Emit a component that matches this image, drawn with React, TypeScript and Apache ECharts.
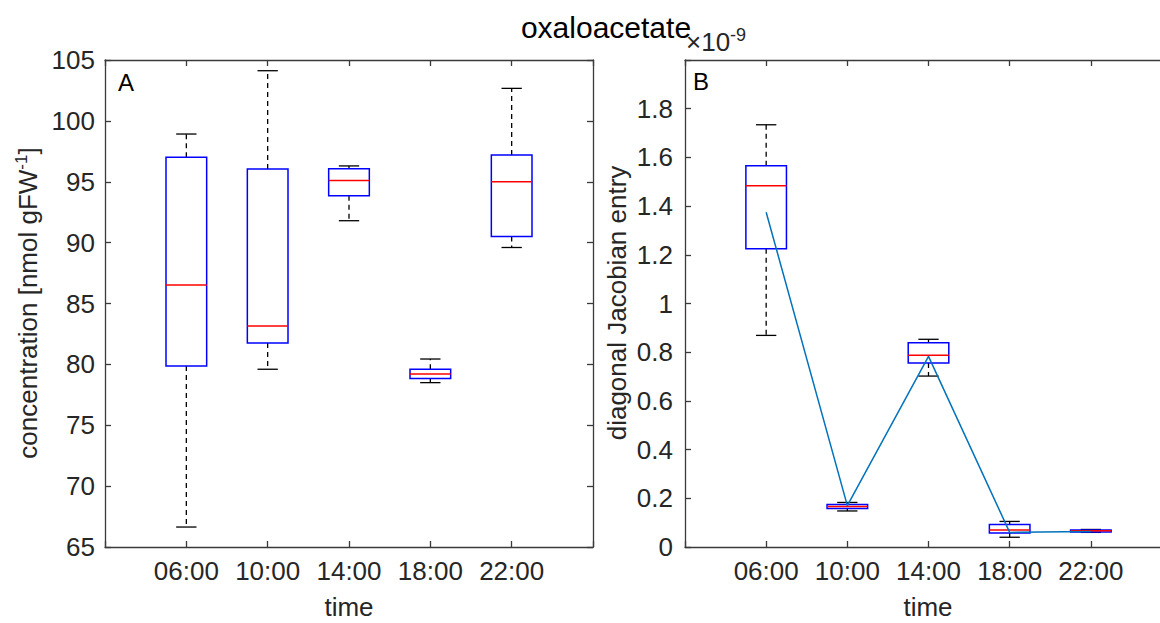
import React, { useEffect, useRef } from "react";
import * as echarts from "echarts";

const times = ["06:00", "10:00", "14:00", "18:00", "22:00"];

// Panel A: concentration [nmol gFW^-1]
const concMin = [66.64, 79.6, 91.8, 78.5, 89.6];
const concQ1 = [79.87, 81.76, 93.85, 78.85, 90.5];
const concMedian = [86.52, 83.15, 95.1, 79.2, 95.0];
const concQ3 = [97.01, 96.05, 96.07, 79.59, 97.19];
const concMax = [98.92, 104.12, 96.3, 80.44, 102.67];

// Panel B: diagonal Jacobian entry (x 1e-9)
const jacMin = [0.869, 0.148, 0.702, 0.04, 0.06];
const jacQ1 = [1.225, 0.158, 0.756, 0.058, 0.062];
const jacMedian = [1.484, 0.166, 0.787, 0.07, 0.067];
const jacQ3 = [1.566, 0.175, 0.839, 0.092, 0.07];
const jacMax = [1.734, 0.183, 0.853, 0.105, 0.072];
const jacMean = [1.375, 0.17, 0.783, 0.06, 0.064];

const concTicks = { min: 65, max: 105, interval: 5 };
const jacTicks = { min: 0, max: 2, interval: 0.2 };

const FONT = "'Liberation Sans', Arial, Helvetica, sans-serif";
const TXT = "#262626";
const AXC = "#3a3a3a";

function boxData(mn: number[], q1: number[], md: number[], q3: number[], mx: number[]) {
  return times.map((_, i) => [i + 1, mn[i], q1[i], md[i], q3[i], mx[i]]);
}

function renderBox(params: any, api: any) {
  const x = api.value(0);
  const pMin = api.coord([x, api.value(1)]);
  const pQ1 = api.coord([x, api.value(2)]);
  const pMed = api.coord([x, api.value(3)]);
  const pQ3 = api.coord([x, api.value(4)]);
  const pMax = api.coord([x, api.value(5)]);
  const w = api.size([0.5, 0])[0];
  const cx = pMed[0];
  const cap = w / 2;
  const dash = { stroke: "#000", lineWidth: 1.3, lineDash: [5, 4], fill: "none" };
  const solid = { stroke: "#000", lineWidth: 1.3, fill: "none" };
  return {
    type: "group",
    children: [
      { type: "line", shape: { x1: cx, y1: pQ3[1], x2: cx, y2: pMax[1] }, style: dash },
      { type: "line", shape: { x1: cx, y1: pQ1[1], x2: cx, y2: pMin[1] }, style: dash },
      { type: "line", shape: { x1: cx - cap / 2, y1: pMax[1], x2: cx + cap / 2, y2: pMax[1] }, style: solid },
      { type: "line", shape: { x1: cx - cap / 2, y1: pMin[1], x2: cx + cap / 2, y2: pMin[1] }, style: solid },
      {
        type: "rect",
        shape: { x: cx - w / 2, y: pQ3[1], width: w, height: pQ1[1] - pQ3[1] },
        style: { fill: "none", stroke: "#0000ff", lineWidth: 1.5 },
      },
      {
        type: "line",
        shape: { x1: cx - w / 2, y1: pMed[1], x2: cx + w / 2, y2: pMed[1] },
        style: { stroke: "#ff0000", lineWidth: 1.5 },
      },
    ],
  };
}

function xAxisCfg(gridIndex: number, top: boolean) {
  return {
    type: "value",
    gridIndex,
    position: top ? "top" : "bottom",
    min: 0,
    max: 6,
    interval: 1,
    axisLine: { show: true, onZero: false, lineStyle: { color: AXC, width: 1.3 } },
    axisTick: { show: true, inside: true, length: 6, lineStyle: { color: AXC, width: 1.3 } },
    splitLine: { show: false },
    axisLabel: {
      show: !top,
      margin: 11,
      fontSize: 26,
      fontFamily: FONT,
      color: TXT,
      formatter: (v: number) => (v >= 1 && v <= 5 ? times[Math.round(v) - 1] : ""),
    },
  };
}

function yAxisCfg(gridIndex: number, right: boolean, t: any, fmt: (v: number) => string, margin: number) {
  return {
    type: "value",
    gridIndex,
    position: right ? "right" : "left",
    min: t.min,
    max: t.max,
    interval: t.interval,
    axisLine: { show: true, onZero: false, lineStyle: { color: AXC, width: 1.3 } },
    axisTick: { show: true, inside: true, length: 6, lineStyle: { color: AXC, width: 1.3 } },
    splitLine: { show: false },
    axisLabel: {
      show: !right,
      margin,
      fontSize: 26,
      fontFamily: FONT,
      color: TXT,
      formatter: fmt,
    },
  };
}

export default function App() {
  const ref = useRef<HTMLDivElement>(null);
  useEffect(() => {
    if (!ref.current) return;
    const chart = echarts.init(ref.current, null, { renderer: "svg" });
    const concFmt = (v: number) => String(Math.round(v));
    const jacFmt = (v: number) => (v >= 1.99 ? "" : String(Math.round(v * 10) / 10));
    chart.setOption({
      animation: false,
      backgroundColor: "#ffffff",
      grid: [
        { left: 105, top: 60, width: 488, height: 487 },
        { left: 685, top: 60, width: 487, height: 487 },
      ],
      xAxis: [xAxisCfg(0, false), xAxisCfg(0, true), xAxisCfg(1, false), xAxisCfg(1, true)],
      yAxis: [
        yAxisCfg(0, false, concTicks, concFmt, 10),
        yAxisCfg(0, true, concTicks, concFmt, 10),
        yAxisCfg(1, false, jacTicks, jacFmt, 12),
        yAxisCfg(1, true, jacTicks, jacFmt, 12),
      ],
      series: [
        {
          type: "custom",
          name: "concentration",
          xAxisIndex: 0,
          yAxisIndex: 0,
          renderItem: renderBox,
          encode: { x: 0, y: [1, 2, 3, 4, 5] },
          data: boxData(concMin, concQ1, concMedian, concQ3, concMax),
          z: 2,
        },
        {
          type: "custom",
          name: "jacobian",
          xAxisIndex: 2,
          yAxisIndex: 2,
          renderItem: renderBox,
          encode: { x: 0, y: [1, 2, 3, 4, 5] },
          data: boxData(jacMin, jacQ1, jacMedian, jacQ3, jacMax),
          z: 2,
        },
        {
          type: "line",
          name: "mean",
          xAxisIndex: 2,
          yAxisIndex: 2,
          data: times.map((_, i) => [i + 1, jacMean[i]]),
          symbol: "none",
          lineStyle: { color: "#0072BD", width: 1.5 },
          z: 3,
        },
      ],
      graphic: [
        {
          type: "text",
          x: 606,
          y: 27,
          style: { text: "oxaloacetate", font: `30px ${FONT}`, fill: "#000", align: "center", verticalAlign: "middle" },
        },
        {
          type: "text",
          x: 118,
          y: 82,
          style: { text: "A", font: `24px ${FONT}`, fill: "#000", align: "left", verticalAlign: "middle" },
        },
        {
          type: "text",
          x: 693,
          y: 81,
          style: { text: "B", font: `24px ${FONT}`, fill: "#000", align: "left", verticalAlign: "middle" },
        },
        {
          type: "text",
          x: 686,
          y: 42,
          style: {
            text: "×10{sup|-9}",
            font: `26px ${FONT}`,
            fill: TXT,
            align: "left",
            verticalAlign: "middle",
            rich: { sup: { fontSize: 18, fontFamily: FONT, fill: TXT, padding: [0, 0, 14, 0] } },
          },
        },
        {
          type: "text",
          x: 28,
          y: 303,
          rotation: Math.PI / 2,
          style: {
            text: "concentration [nmol gFW{sup|-1}]",
            font: `26px ${FONT}`,
            fill: TXT,
            align: "center",
            verticalAlign: "middle",
            rich: { sup: { fontSize: 17, fontFamily: FONT, fill: TXT, padding: [0, 0, 14, 0] } },
          },
        },
        {
          type: "text",
          x: 617,
          y: 303,
          rotation: Math.PI / 2,
          style: {
            text: "diagonal Jacobian entry",
            font: `26px ${FONT}`,
            fill: TXT,
            align: "center",
            verticalAlign: "middle",
          },
        },
        {
          type: "text",
          x: 349,
          y: 607,
          style: { text: "time", font: `26px ${FONT}`, fill: TXT, align: "center", verticalAlign: "middle" },
        },
        {
          type: "text",
          x: 928,
          y: 607,
          style: { text: "time", font: `26px ${FONT}`, fill: TXT, align: "center", verticalAlign: "middle" },
        },
      ],
    });
    return () => chart.dispose();
  }, []);
  return (
    <div
      style={{
        position: "absolute",
        left: 0,
        top: 0,
        width: 1160,
        height: 623,
        overflow: "hidden",
        background: "#fff",
      }}
    >
      <div ref={ref} style={{ width: 1180, height: 623 }} />
    </div>
  );
}
